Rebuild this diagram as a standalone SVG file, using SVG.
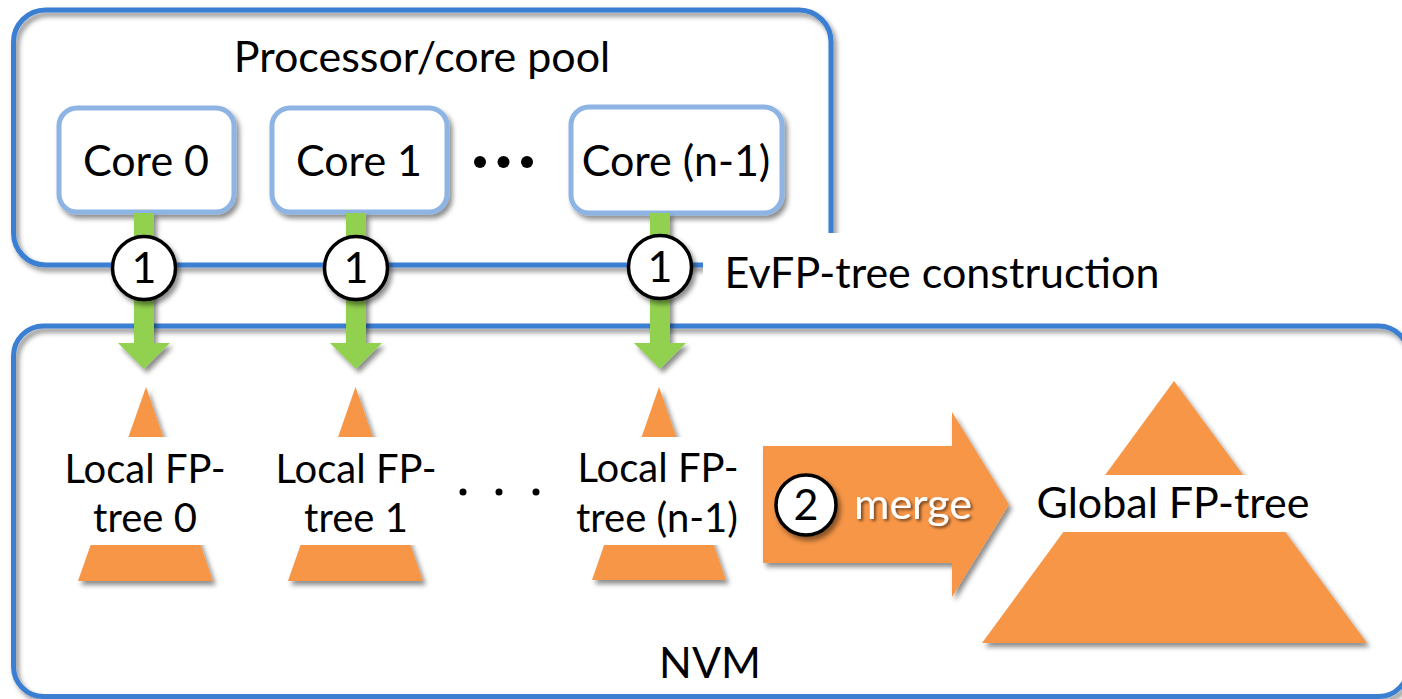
<svg xmlns="http://www.w3.org/2000/svg" width="1402" height="699" viewBox="0 0 1402 699">
  <defs>
    <filter id="shadow" x="-20%" y="-20%" width="140%" height="140%">
      <feDropShadow dx="3" dy="4" stdDeviation="2.5" flood-color="#000" flood-opacity="0.45"/>
    </filter>
    <filter id="txtShadow" x="-10%" y="-20%" width="120%" height="140%">
      <feDropShadow dx="2" dy="2" stdDeviation="1.5" flood-color="#000" flood-opacity="0.55"/>
    </filter>
    <g id="step1">
      <circle r="31.5" fill="#fff" stroke="#000" stroke-width="3.5" filter="url(#shadow)"/>
      <text y="15" class="t">1</text>
    </g>
    <!-- green down arrow: shaft from core bottom, head ending at y=369 -->
    <path id="greenArrow" d="M-10 0 H10 V130 H26 L0 156 L-26 130 H-10 Z" fill="#92D050"/>
  </defs>
  <style>
    .t { font-family: Lato, "Open Sans", "DejaVu Sans", sans-serif; font-size: 43px; fill: #000; text-anchor: middle; }
    .lbl { font-size: 40px; }
    .pool { fill: none; stroke: #3A7FD3; stroke-width: 5; }
    .core { fill: #fff; stroke: #8DB4E2; stroke-width: 5; }
    .tri { fill: #F79646; }
    .bg { fill: #fff; }
  </style>
  <rect width="1402" height="699" fill="#fff"/>

  <!-- processor / core pool container -->
  <g id="pool">
    <rect class="pool" x="13.5" y="10" width="817.5" height="255" rx="32" filter="url(#shadow)"/>
    <text class="t" x="422" y="72">Processor/core pool</text>
  </g>

  <!-- step label, sits on a white plate over the pool corner -->
  <g id="label-construction">
    <rect class="bg" x="703" y="233" width="480" height="86"/>
    <text class="t" x="942" y="288">EvFP-tree construction</text>
  </g>

  <!-- NVM container -->
  <g id="nvm">
    <rect class="pool" x="13.5" y="326" width="1395" height="370.5" rx="30" filter="url(#shadow)"/>
    <text class="t" x="710" y="678">NVM</text>
  </g>

  <!-- cores -->
  <g id="core0">
    <rect class="core" x="59" y="108" width="175" height="104" rx="18" filter="url(#shadow)"/>
    <text class="t" x="146" y="176">Core 0</text>
  </g>
  <g id="core1">
    <rect class="core" x="272" y="108" width="175" height="104" rx="18" filter="url(#shadow)"/>
    <text class="t" x="359" y="176">Core 1</text>
  </g>
  <g id="core-dots" fill="#000">
    <circle cx="480" cy="162" r="6"/>
    <circle cx="503.5" cy="162" r="6"/>
    <circle cx="527" cy="162" r="6"/>
  </g>
  <g id="core-n1">
    <rect class="core" x="571" y="107" width="211" height="106" rx="18" filter="url(#shadow)"/>
    <text class="t" x="676" y="176">Core (n-1)</text>
  </g>

  <!-- connectors: core to local tree -->
  <g id="connectors">
    <use href="#greenArrow" x="144" y="213" filter="url(#shadow)"/>
    <use href="#greenArrow" x="356" y="213" filter="url(#shadow)"/>
    <use href="#greenArrow" x="660" y="213" filter="url(#shadow)"/>
    <use href="#step1" x="144" y="268"/>
    <use href="#step1" x="356" y="268"/>
    <use href="#step1" x="660" y="267"/>
  </g>

  <!-- local FP-trees -->
  <g id="local0">
    <polygon class="tri" points="146,387 213,581 78,581" filter="url(#shadow)"/>
    <rect class="bg" x="55" y="437" width="182" height="108"/>
    <text class="t lbl" x="145" y="483">Local FP-</text>
    <text class="t lbl" x="145" y="532">tree 0</text>
  </g>
  <g id="local1">
    <polygon class="tri" points="355.5,387 423,581 288,581" filter="url(#shadow)"/>
    <rect class="bg" x="266" y="437" width="182" height="108"/>
    <text class="t lbl" x="356" y="483">Local FP-</text>
    <text class="t lbl" x="356" y="532">tree 1</text>
  </g>
  <g id="tree-dots" fill="#000">
    <circle cx="463" cy="492" r="3.5"/>
    <circle cx="499" cy="492" r="3.5"/>
    <circle cx="536" cy="492" r="3.5"/>
  </g>
  <g id="local-n1">
    <polygon class="tri" points="659,387 726,580 592,580" filter="url(#shadow)"/>
    <rect class="bg" x="563" y="437" width="190" height="108"/>
    <text class="t lbl" x="658" y="482">Local FP-</text>
    <text class="t lbl" x="657" y="532">tree (n-1)</text>
  </g>

  <!-- merge step -->
  <g id="merge">
    <path class="tri" d="M763 446 H952 V412 L1009 504.5 L952 597 V563 H763 Z" filter="url(#shadow)"/>
    <circle cx="806" cy="505" r="30" fill="#fff" stroke="#000" stroke-width="3.5" filter="url(#shadow)"/>
    <text class="t" x="806" y="520">2</text>
    <text class="t" x="913" y="519" style="fill:#fff" filter="url(#txtShadow)">merge</text>
  </g>

  <!-- global FP-tree -->
  <g id="global">
    <polygon class="tri" points="1174,381 1367,643 982,643" filter="url(#shadow)"/>
    <rect class="bg" x="1030" y="475" width="288" height="57"/>
    <text class="t" x="1173" y="518">Global FP-tree</text>
  </g>
</svg>
